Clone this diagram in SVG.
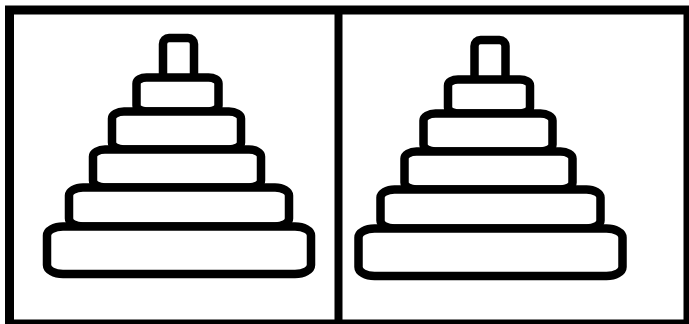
<svg xmlns="http://www.w3.org/2000/svg" width="689" height="324" viewBox="0 0 689 324">
<style>
.ln{fill:#fff;stroke:#000;stroke-width:8.5;stroke-linejoin:round}
</style>
<defs>
<g id="tower">
<rect class="ln" x="163" y="38" width="31" height="44" rx="6" ry="6"/>
<rect class="ln" x="136.5" y="77.5" width="82" height="34" rx="10" ry="6"/>
<rect class="ln" x="112" y="111.5" width="129" height="38" rx="12" ry="7"/>
<rect class="ln" x="93" y="149.5" width="168" height="38" rx="12" ry="7"/>
<rect class="ln" x="69" y="187.5" width="220" height="39" rx="14" ry="8"/>
<rect class="ln" x="47" y="226.5" width="264" height="47.5" rx="16" ry="9"/>
</g>
</defs>
<rect width="689" height="324" fill="#fff"/>
<g id="frame">
<rect x="9.5" y="10" width="678.5" height="314" fill="none" stroke="#000" stroke-width="9"/>
<line x1="338.5" y1="10" x2="338.5" y2="324" stroke="#000" stroke-width="8"/>
</g>
<g id="tower-left">
<use href="#tower"/>
</g>
<g id="tower-right">
<use href="#tower" transform="translate(311.5,2)"/>
</g>
<g id="connectors"/>
</svg>
